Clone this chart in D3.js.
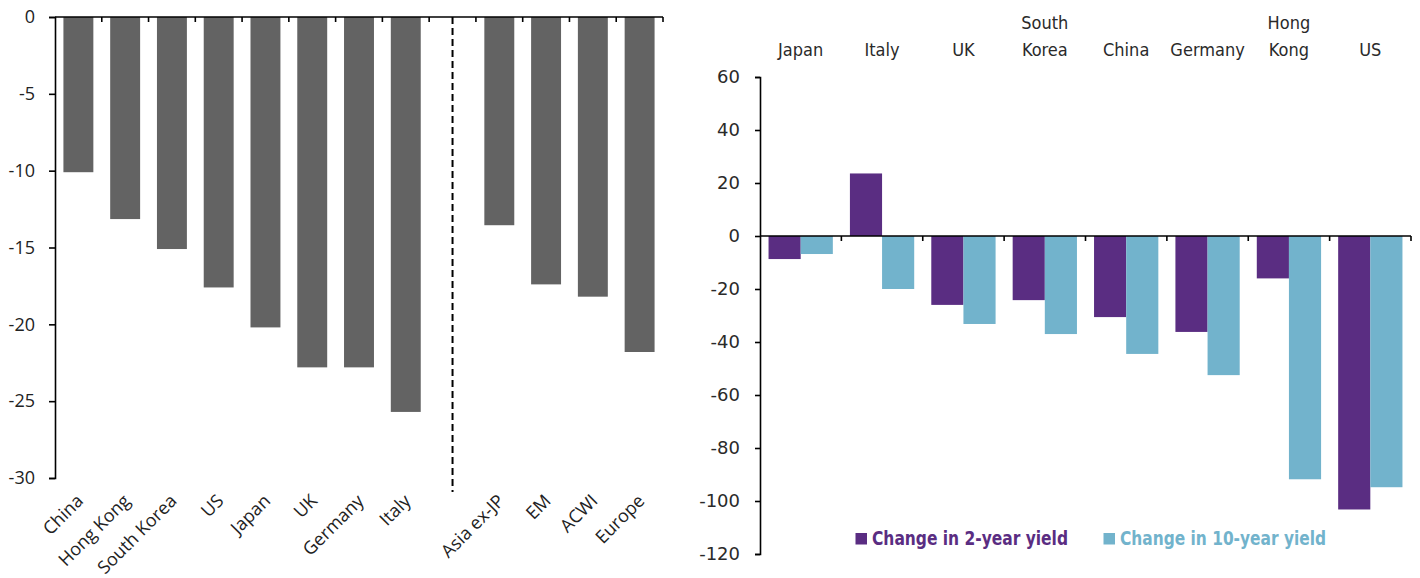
<!DOCTYPE html>
<html>
<head>
<meta charset="utf-8">
<script src="https://cdn.jsdelivr.net/npm/d3@7"></script>
<style>
  html, body { margin: 0; padding: 0; background: #fff; }
  svg { display: block; }
</style>
</head>
<body>
<svg id="chart" width="1420" height="578"></svg>
<script>
// ---------- Data ----------
// Left panel: equity drawdown (%)
const countryNames  = ["China", "Hong Kong", "South Korea", "US", "Japan", "UK", "Germany", "Italy"];
const countryValues = [-10.1, -13.15, -15.1, -17.6, -20.2, -22.8, -22.8, -25.7];
const regionNames   = ["Asia ex-JP", "EM", "ACWI", "Europe"];
const regionValues  = [-13.55, -17.4, -18.2, -21.8];
const leftTicks     = [0, -5, -10, -15, -20, -25, -30];

// Right panel: change in bond yields (bp)
const yieldCountries = ["Japan", "Italy", "UK", "South Korea", "China", "Germany", "Hong Kong", "US"];
const change2y  = [-8.7, 23.6, -26, -24.2, -30.6, -36.2, -16, -103.2];
const change10y = [-6.8, -20, -33.2, -37, -44.5, -52.5, -91.8, -94.8];
const seriesNames = ["Change in 2-year yield", "Change in 10-year yield"];
const rightTicks = [60, 40, 20, 0, -20, -40, -60, -80, -100, -120];

// ---------- Styles ----------
const GREY = "#636363";
const PURPLE = "#5a2d82";
const CYAN = "#72b3cc";
const TEXT = "#222";
const TEXT_R = "#2a2a2a";
const leftFont = "'Open Sans', 'DejaVu Sans', sans-serif";
const rightFont = "'DejaVu Sans Condensed', 'DejaVu Sans', sans-serif";
const fmt = d => String(d); // plain hyphen-minus, as in the source

const svg = d3.select("#chart");

// ================= LEFT PANEL =================
const GAP = "__gap__";
const leftData = countryNames.map((n, i) => ({ name: n, value: countryValues[i] }))
  .concat(regionNames.map((n, i) => ({ name: n, value: regionValues[i] })));
const leftDomain = countryNames.concat([GAP], regionNames);

const xL = d3.scaleBand().domain(leftDomain).range([55, 663]).paddingInner(0.36).paddingOuter(0.18);
const yL = d3.scaleLinear().domain([-30, 0]).range([478, 17]);

const gL = svg.append("g");

// bars
gL.selectAll("rect.bar").data(leftData).join("rect")
  .attr("class", "bar")
  .attr("x", d => xL(d.name))
  .attr("width", xL.bandwidth())
  .attr("y", d => yL(Math.max(0, d.value)))
  .attr("height", d => Math.abs(yL(d.value) - yL(0)))
  .attr("fill", GREY);

// y axis
const yAxisL = d3.axisLeft(yL).tickValues(leftTicks).tickSize(6).tickPadding(14).tickFormat(fmt);
const gyL = gL.append("g").attr("transform", `translate(${xL.range()[0]},0)`).call(yAxisL);
gyL.select(".domain").attr("stroke", "#000").attr("stroke-width", 1.6);
gyL.selectAll(".tick line").attr("stroke", "#000").attr("stroke-width", 1.6);
gyL.selectAll(".tick text").attr("font-family", leftFont).attr("font-size", 18).attr("fill", TEXT);

// x axis line at 0 (top)
const stepL = xL.step();
const x0L = xL.range()[0], x1L = xL.range()[1];
gL.append("line").attr("x1", x0L).attr("x2", x1L).attr("y1", yL(0)).attr("y2", yL(0))
  .attr("stroke", "#000").attr("stroke-width", 1.6);
gL.selectAll("line.xtick").data(d3.range(1, leftDomain.length + 1)).join("line")
  .attr("class", "xtick")
  .attr("x1", i => x0L + i * stepL).attr("x2", i => x0L + i * stepL)
  .attr("y1", yL(0)).attr("y2", yL(0) + 5)
  .attr("stroke", "#000").attr("stroke-width", 1.6);

// dashed divider
const gapX = xL(GAP) + xL.bandwidth() / 2;
gL.append("line").attr("x1", gapX).attr("x2", gapX).attr("y1", yL(0)).attr("y2", yL(-30) + 14)
  .attr("stroke", "#000").attr("stroke-width", 2).attr("stroke-dasharray", "7,4");

// category labels
gL.selectAll("text.cat").data(leftData).join("text")
  .attr("class", "cat")
  .attr("transform", d => `translate(${xL(d.name) + xL.bandwidth() / 2 + 6},${yL(-30) + 24}) rotate(-45)`)
  .attr("text-anchor", "end")
  .attr("font-family", leftFont).attr("font-size", 18).attr("fill", TEXT)
  .text(d => d.name);

// ================= RIGHT PANEL =================
const xR = d3.scaleBand().domain(yieldCountries).range([760, 1411]).paddingInner(0.21).paddingOuter(0.105);
const xSub = d3.scaleBand().domain(seriesNames).range([0, xR.bandwidth()]);
const yR = d3.scaleLinear().domain([-120, 60]).range([554, 77]);
const colorR = d3.scaleOrdinal().domain(seriesNames).range([PURPLE, CYAN]);

const rightData = yieldCountries.map((c, i) => ({
  country: c,
  vals: [{ s: seriesNames[0], v: change2y[i] }, { s: seriesNames[1], v: change10y[i] }]
}));

const gR = svg.append("g");

const groups = gR.selectAll("g.grp").data(rightData).join("g")
  .attr("class", "grp")
  .attr("transform", d => `translate(${xR(d.country)},0)`);
groups.selectAll("rect").data(d => d.vals).join("rect")
  .attr("x", d => xSub(d.s))
  .attr("width", xSub.bandwidth())
  .attr("y", d => yR(Math.max(0, d.v)))
  .attr("height", d => Math.abs(yR(d.v) - yR(0)))
  .attr("fill", d => colorR(d.s));

// y axis
const yAxisR = d3.axisLeft(yR).tickValues(rightTicks).tickSize(5).tickPadding(15).tickFormat(fmt);
const gyR = gR.append("g").attr("transform", `translate(${xR.range()[0]},0)`).call(yAxisR);
gyR.select(".domain").attr("stroke", "#000").attr("stroke-width", 1.6);
gyR.selectAll(".tick line").attr("stroke", "#000").attr("stroke-width", 1.6);
gyR.selectAll(".tick text").attr("font-family", "'DejaVu Sans', sans-serif").attr("font-size", 18).attr("fill", TEXT_R);

// zero line with ticks
const stepR = xR.step();
const x0R = xR.range()[0], x1R = xR.range()[1];
gR.append("line").attr("x1", x0R).attr("x2", x1R).attr("y1", yR(0)).attr("y2", yR(0))
  .attr("stroke", "#000").attr("stroke-width", 1.6);
gR.selectAll("line.xtick").data(d3.range(1, yieldCountries.length + 1)).join("line")
  .attr("class", "xtick")
  .attr("x1", i => x0R + i * stepR).attr("x2", i => x0R + i * stepR)
  .attr("y1", yR(0)).attr("y2", yR(0) + 5)
  .attr("stroke", "#000").attr("stroke-width", 1.6);

// top category labels
const topLabels = gR.selectAll("text.top").data(yieldCountries).join("text")
  .attr("class", "top")
  .attr("text-anchor", "middle")
  .attr("font-family", rightFont).attr("font-stretch", "condensed")
  .attr("font-size", 18).attr("fill", TEXT_R);
topLabels.each(function (c) {
  const lines = c.split(" ");
  const cx = xR(c) + xR.bandwidth() / 2;
  const el = d3.select(this);
  lines.forEach((ln, j) => {
    el.append("tspan").attr("x", cx).attr("y", 56 - (lines.length - 1 - j) * 27).text(ln);
  });
});

// legend
const legendX = [855.5, 1103.5];
const legendW = [196, 206];
const legend = gR.selectAll("g.leg").data(seriesNames).join("g")
  .attr("class", "leg")
  .attr("transform", (d, i) => `translate(${legendX[i]},545)`);
legend.append("rect").attr("x", 0).attr("y", -12).attr("width", 11.5).attr("height", 11.5)
  .attr("fill", d => colorR(d));
legend.append("text").attr("x", 16.5).attr("y", 0)
  .attr("font-family", rightFont).attr("font-stretch", "condensed").attr("font-weight", "bold")
  .attr("font-size", 20).attr("fill", d => colorR(d))
  .attr("textLength", (d, i) => legendW[i]).attr("lengthAdjust", "spacingAndGlyphs")
  .text(d => d);
</script>
</body>
</html>
